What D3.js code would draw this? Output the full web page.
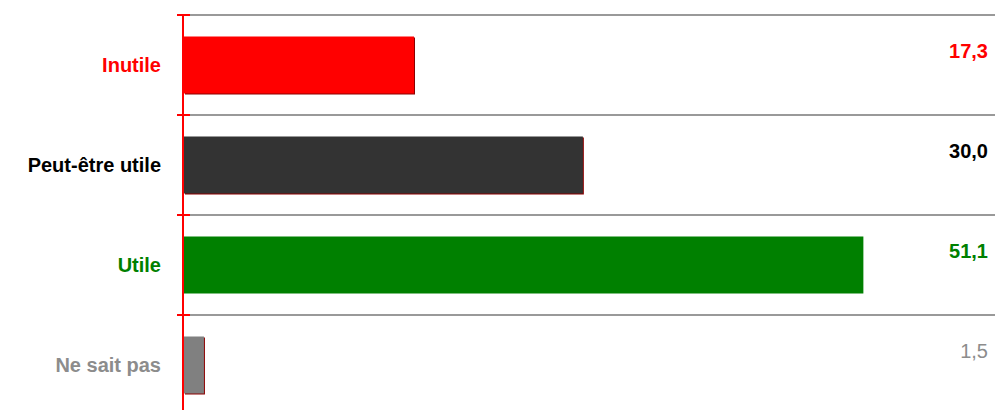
<!DOCTYPE html>
<html>
<head>
<meta charset="utf-8">
<script src="https://cdn.jsdelivr.net/npm/d3@7"></script>
<style>
  body { margin: 0; background: #fff; }
  text { font-family: "Liberation Sans", Arial, sans-serif; }
</style>
</head>
<body>
<script>
var categories = ["Inutile", "Peut-être utile", "Utile", "Ne sait pas"];
var values = [17.3, 30.0, 51.1, 1.5];
var valueLabels = ["17,3", "30,0", "51,1", "1,5"];
var barColors = ["#ff0000", "#333333", "#008000", "#808080"];
var labelColors = ["#ff0000", "#000000", "#008000", "#8c8c8c"];

var width = 995, height = 410;

var svg = d3.select("body").append("svg")
    .attr("width", width)
    .attr("height", height);

var x = d3.scaleLinear().domain([0, 61]).range([184, 995]);
var y = d3.scaleBand().domain(categories).range([15, 415])
    .paddingInner(0.43).paddingOuter(0.215);

var step = y.step();
var bounds = categories.map(function (c) { return y(c) - y.paddingOuter() * step; });

// grid lines between categories
svg.selectAll("line.grid")
    .data(bounds)
    .enter().append("line")
    .attr("class", "grid")
    .attr("x1", x(0)).attr("x2", width)
    .attr("y1", function (d) { return d; })
    .attr("y2", function (d) { return d; })
    .attr("stroke", "#999")
    .attr("stroke-width", 2);

// bar shadows
svg.selectAll("rect.shadow")
    .data(values)
    .enter().append("rect")
    .attr("class", "shadow")
    .attr("x", x(0) + 1)
    .attr("y", function (d, i) { return y(categories[i]) + 1; })
    .attr("width", function (d) { return x(d) - x(0); })
    .attr("height", y.bandwidth())
    .attr("fill", function (d, i) { return i == 2 ? "none" : "#8b0000"; });

svg.selectAll("rect.bar")
    .data(values)
    .enter().append("rect")
    .attr("class", "bar")
    .attr("x", x(0))
    .attr("y", function (d, i) { return y(categories[i]); })
    .attr("width", function (d) { return x(d) - x(0); })
    .attr("height", y.bandwidth())
    .attr("fill", function (d, i) { return barColors[i]; });

// axis line with tick marks
svg.append("line")
    .attr("x1", 183).attr("x2", 183)
    .attr("y1", bounds[0]).attr("y2", height)
    .attr("stroke", "#ff0000")
    .attr("stroke-width", 2);

svg.selectAll("line.tick")
    .data(bounds)
    .enter().append("line")
    .attr("class", "tick")
    .attr("x1", 177).attr("x2", 190)
    .attr("y1", function (d) { return d; })
    .attr("y2", function (d) { return d; })
    .attr("stroke", "#ff0000")
    .attr("stroke-width", 2);

// category labels
svg.selectAll("text.cat")
    .data(categories)
    .enter().append("text")
    .attr("class", "cat")
    .attr("x", 161)
    .attr("y", function (d) { return y(d) + y.bandwidth() / 2; })
    .attr("dy", "0.36em")
    .attr("text-anchor", "end")
    .attr("font-size", 20)
    .attr("font-weight", "bold")
    .attr("fill", function (d, i) { return labelColors[i]; })
    .text(function (d) { return d; });

// value labels
svg.selectAll("text.val")
    .data(valueLabels)
    .enter().append("text")
    .attr("class", "val")
    .attr("x", 988)
    .attr("y", function (d, i) { return y(categories[i]) + 21; })
    .attr("text-anchor", "end")
    .attr("font-size", 20)
    .attr("font-weight", function (d, i) { return i == 3 ? "normal" : "bold"; })
    .attr("fill", function (d, i) { return labelColors[i]; })
    .text(function (d) { return d; });
</script>
</body>
</html>
